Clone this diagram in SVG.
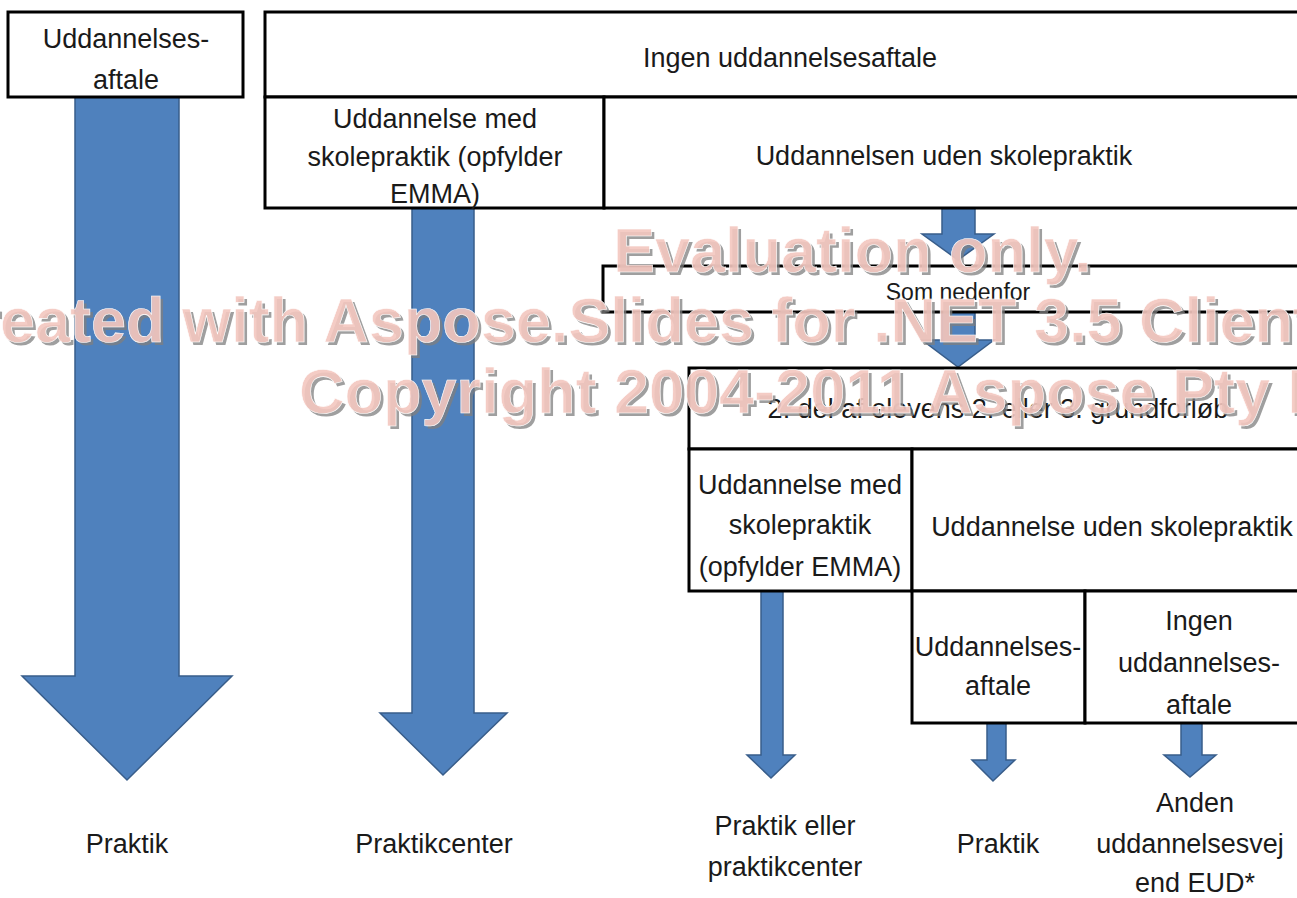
<svg xmlns="http://www.w3.org/2000/svg" width="1297" height="898" viewBox="0 0 1297 898">
<style>
.box{fill:#fff;stroke:#000;stroke-width:3}
.t{font-family:"Liberation Sans",Arial,sans-serif;font-size:27px;fill:#1a1a1a;text-anchor:middle}
.arr{fill:#4F81BD;stroke:#385D8A;stroke-width:1.5;stroke-linejoin:miter}
.wm{font-family:"Liberation Sans",Arial,sans-serif;font-weight:bold;font-size:63px}
.wms{fill:#7f7f7f;fill-opacity:0.75}
.wmf{fill:#f3c6bf;fill-opacity:0.9;stroke:#fff;stroke-width:0.6}
</style>
<rect width="1297" height="898" fill="#fff"/>
<g id="connectors">
<polygon class="arr" points="75,97 179,97 179,676 232,676 127,780 22,676 75,676"/>
<polygon class="arr" points="412,208 474,208 474,713 507,713 443,775 380,713 412,713"/>
<polygon class="arr" points="942,208 975,208 975,234 994,234 958,260 922,234 942,234"/>
<polygon class="arr" points="942,312 975,312 975,340 994,340 958,367 922,340 942,340"/>
<polygon class="arr" points="761,591 783,591 783,755 795,755 771,778 747,755 761,755"/>
<polygon class="arr" points="987,723 1006,723 1006,760 1015,760 993,781 972,760 987,760"/>
<polygon class="arr" points="1181,723 1202,723 1202,755 1216,755 1190,777 1164,755 1181,755"/>
</g>
<g id="n-aftale">
<rect class="box" x="8" y="12" width="235" height="85"/>
<text class="t" x="126" y="48">Uddannelses-</text>
<text class="t" x="126" y="89">aftale</text>
</g>
<g id="n-ingen">
<rect class="box" x="265" y="12" width="1045" height="85"/>
<text class="t" x="790" y="67">Ingen uddannelsesaftale</text>
</g>
<g id="n-med1">
<rect class="box" x="265" y="97" width="339" height="111"/>
<text class="t" x="435" y="128">Uddannelse med</text>
<text class="t" x="435" y="166">skolepraktik (opfylder</text>
<text class="t" x="435" y="203">EMMA)</text>
</g>
<g id="n-uden1">
<rect class="box" x="604" y="97" width="706" height="111"/>
<text class="t" x="944" y="165">Uddannelsen uden skolepraktik</text>
</g>
<g id="n-som">
<rect class="box" x="603" y="266" width="707" height="46"/>
<text class="t" x="958" y="300" style="font-size:23px">Som nedenfor</text>
</g>
<g id="n-grund">
<rect class="box" x="689" y="368" width="621" height="81"/>
<text class="t" x="998" y="418">2. del af elevens 2. eller 3. grundforløb</text>
</g>
<g id="n-med2">
<rect class="box" x="689" y="449" width="223" height="142"/>
<text class="t" x="800" y="494">Uddannelse med</text>
<text class="t" x="800" y="534">skolepraktik</text>
<text class="t" x="800" y="576">(opfylder EMMA)</text>
</g>
<g id="n-uden2">
<rect class="box" x="912" y="449" width="398" height="142"/>
<text class="t" x="1112" y="536">Uddannelse uden skolepraktik</text>
</g>
<g id="n-aftale2">
<rect class="box" x="912" y="591" width="173" height="132"/>
<text class="t" x="998" y="656">Uddannelses-</text>
<text class="t" x="998" y="695">aftale</text>
</g>
<g id="n-ingen2">
<rect class="box" x="1085" y="591" width="225" height="132"/>
<text class="t" x="1199" y="630">Ingen</text>
<text class="t" x="1199" y="672">uddannelses-</text>
<text class="t" x="1199" y="714">aftale</text>
</g>
<g id="n-praktik1"><text class="t" x="127" y="853">Praktik</text></g>
<g id="n-praktikcenter"><text class="t" x="434" y="853">Praktikcenter</text></g>
<g id="n-eller">
<text class="t" x="785" y="835">Praktik eller</text>
<text class="t" x="785" y="876">praktikcenter</text>
</g>
<g id="n-praktik2"><text class="t" x="998" y="853">Praktik</text></g>
<g id="n-anden">
<text class="t" x="1195" y="812">Anden</text>
<text class="t" x="1190" y="853">uddannelsesvej</text>
<text class="t" x="1195" y="892">end EUD*</text>
</g>
<g id="watermark" class="wm">
<text class="wms" x="616" y="275">Evaluation only.</text>
<text class="wmf" x="613" y="272">Evaluation only.</text>
<text class="wms" x="-67" y="345">Created with Aspose.Slides for .NET 3.5 Client Profile</text>
<text class="wmf" x="-70" y="342">Created with Aspose.Slides for .NET 3.5 Client Profile</text>
<text class="wms" x="302" y="416">Copyright 2004-2011 Aspose Pty Ltd.</text>
<text class="wmf" x="299" y="413">Copyright 2004-2011 Aspose Pty Ltd.</text>
</g>
</svg>
